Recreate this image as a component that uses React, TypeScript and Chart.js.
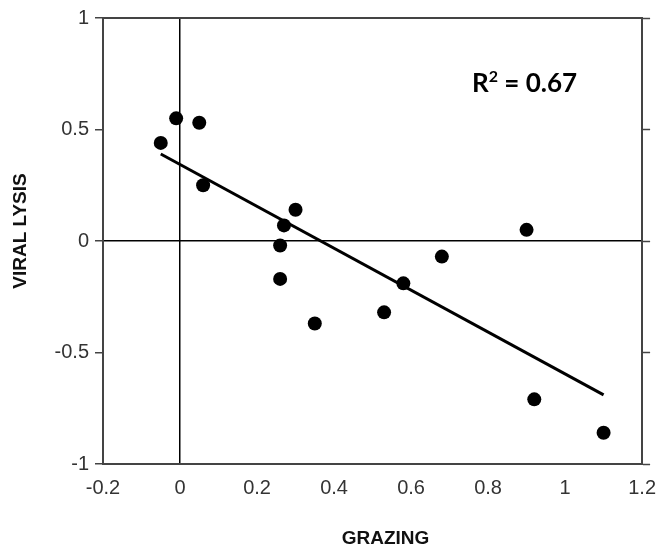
import React, { useEffect, useRef } from "react";
import { Chart, registerables } from "chart.js";

Chart.register(...registerables);

// Data
const grazing = [-0.05, -0.01, 0.05, 0.06, 0.27, 0.3, 0.26, 0.26, 0.35, 0.53, 0.58, 0.68, 0.9, 0.92, 1.1];
const viralLysis = [0.44, 0.55, 0.53, 0.25, 0.07, 0.14, -0.02, -0.17, -0.37, -0.32, -0.19, -0.07, 0.05, -0.71, -0.86];
const fitX = [-0.05, 1.1];
const fitY = [0.39, -0.69];
const xTicks = [-0.2, 0, 0.2, 0.4, 0.6, 0.8, 1, 1.2];
const yTicks = [-1, -0.5, 0, 0.5, 1];
const xTitle = "GRAZING";
const yTitle = "VIRAL LYSIS";
const r2Label = "0.67";

const FRAME = "#444";
const TICKFONT = { family: "'Liberation Sans', Arial, sans-serif", size: 20 };

const setTicks = (vals: number[]) => (scale: any) => {
  scale.ticks = vals.map((v) => ({ value: v }));
};
const fmt = (v: any) => String(Number(Number(v).toFixed(2)));

const textPlugin = {
  id: "texts",
  afterDraw(chart: any) {
    const ctx = chart.ctx;
    const a = chart.chartArea;
    ctx.save();
    ctx.fillStyle = "#111";
    ctx.font = "bold 19px 'Liberation Sans', Arial, sans-serif";
    ctx.textAlign = "center";
    ctx.textBaseline = "middle";
    ctx.fillText(xTitle, (a.left + a.right) / 2 + 13, 539);
    ctx.save();
    ctx.translate(21, (a.top + a.bottom) / 2 - 10);
    ctx.rotate(-Math.PI / 2);
    ctx.fillText(yTitle, 0, 0);
    ctx.restore();
    // R² annotation
    ctx.textAlign = "left";
    ctx.textBaseline = "alphabetic";
    ctx.fillStyle = "#000";
    let x = 472;
    const base = 92;
    ctx.font = "bold 26px Lato, 'Open Sans', sans-serif";
    ctx.fillText("R", x, base);
    x += ctx.measureText("R").width;
    ctx.font = "bold 16px Lato, 'Open Sans', sans-serif";
    ctx.fillText("2", x, base - 10);
    x += ctx.measureText("2").width;
    ctx.font = "bold 26px Lato, 'Open Sans', sans-serif";
    ctx.fillText(" = " + r2Label, x, base);
    ctx.restore();
  },
};

export default function App() {
  const ref = useRef<HTMLCanvasElement>(null);
  useEffect(() => {
    if (!ref.current) return;
    const zeroColor = (c: any) => (c.tick && c.tick.value === 0 ? "#000" : "rgba(0,0,0,0)");
    const chart = new Chart(ref.current, {
      type: "scatter",
      data: {
        datasets: [
          {
            type: "line",
            data: fitX.map((x, i) => ({ x, y: fitY[i] })),
            borderColor: "#000",
            borderWidth: 3,
            pointRadius: 0,
            fill: false,
            tension: 0,
          } as any,
          {
            data: grazing.map((x, i) => ({ x, y: viralLysis[i] })),
            backgroundColor: "#000",
            borderWidth: 0,
            pointRadius: 7,
          },
        ],
      },
      options: {
        responsive: false,
        animation: false,
        layout: { padding: 0 },
        plugins: { legend: { display: false }, tooltip: { enabled: false } },
        scales: {
          x: {
            type: "linear",
            position: "bottom",
            min: -0.2,
            max: 1.2,
            afterBuildTicks: setTicks(xTicks),
            afterFit: (s: any) => { s.height = 86; },
            ticks: { font: TICKFONT, color: "#333", padding: 12, callback: fmt, maxRotation: 0 },
            grid: { color: zeroColor, lineWidth: 1.5, drawTicks: false },
            border: { display: true, color: FRAME, width: 2 },
          },
          x2: {
            type: "linear",
            position: "top",
            min: -0.2,
            max: 1.2,
            afterFit: (s: any) => { s.height = 18; },
            ticks: { display: false },
            grid: { drawOnChartArea: false, drawTicks: false },
            border: { display: true, color: FRAME, width: 2 },
          },
          y: {
            type: "linear",
            position: "left",
            min: -1,
            max: 1,
            afterBuildTicks: setTicks(yTicks),
            afterFit: (s: any) => { s.width = 103; },
            ticks: { font: TICKFONT, color: "#333", padding: 6, callback: fmt },
            grid: { color: zeroColor, lineWidth: 1.5, drawTicks: true, tickLength: 8, tickColor: FRAME, tickWidth: 1.5 },
            border: { display: true, color: FRAME, width: 2 },
          },
          y2: {
            type: "linear",
            position: "right",
            min: -1,
            max: 1,
            afterBuildTicks: setTicks(yTicks),
            afterFit: (s: any) => { s.width = 20; },
            ticks: { display: false },
            grid: { drawOnChartArea: false, drawTicks: true, tickLength: 8, tickColor: FRAME, tickWidth: 1.5 },
            border: { display: true, color: FRAME, width: 2 },
          },
        },
      } as any,
      plugins: [textPlugin],
    });
    return () => chart.destroy();
  }, []);
  return (
    <div style={{ position: "absolute", left: 0, top: 0, width: 668, height: 550, background: "#fff" }}>
      <canvas ref={ref} width={668} height={550} style={{ width: 668, height: 550, display: "block" }} />
    </div>
  );
}
